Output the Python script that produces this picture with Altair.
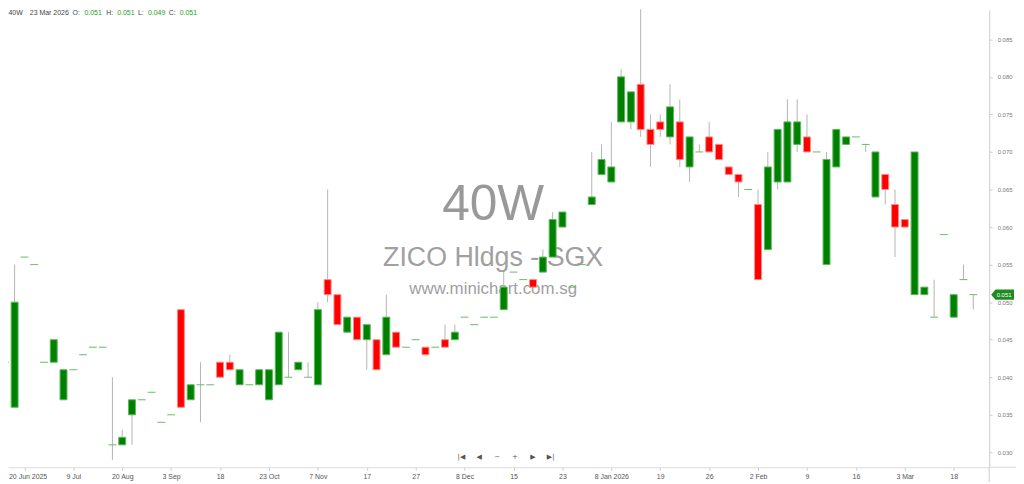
import altair as alt
import pandas as pd

# ---- data ----
opens = [0.042, 0.036, 0.056, 0.055, 0.042, 0.042, 0.037, 0.041, 0.043, 0.044,
         0.044, 0.031, 0.031, 0.035, 0.037, 0.038, 0.034, 0.035, 0.049, 0.037,
         0.039, 0.039, 0.042, 0.042, 0.039, 0.039, 0.039, 0.037, 0.039, 0.040,
         0.041, 0.040, 0.039, 0.053, 0.051, 0.046, 0.048, 0.045, 0.045, 0.043,
         0.046, 0.044, 0.045, 0.044, 0.044, 0.045, 0.045, 0.048, 0.047, 0.048,
         0.048, 0.049, 0.054, 0.053, 0.053, 0.054, 0.056, 0.060, 0.052, 0.055,
         0.063, 0.067, 0.066, 0.074, 0.074, 0.079, 0.073, 0.074, 0.072, 0.074,
         0.068, 0.070, 0.072, 0.071, 0.068, 0.067, 0.065, 0.063, 0.057, 0.066,
         0.066, 0.071, 0.072, 0.070, 0.055, 0.068, 0.071, 0.072, 0.071, 0.064,
         0.067, 0.063, 0.061, 0.051, 0.051, 0.048, 0.059, 0.048, 0.053, 0.051]
highs = [0.043, 0.055, 0.056, 0.055, 0.042, 0.045, 0.041, 0.041, 0.043, 0.044,
         0.044, 0.040, 0.033, 0.037, 0.037, 0.038, 0.034, 0.035, 0.049, 0.039,
         0.042, 0.039, 0.042, 0.043, 0.041, 0.039, 0.041, 0.041, 0.046, 0.046,
         0.042, 0.042, 0.050, 0.065, 0.051, 0.048, 0.048, 0.047, 0.045, 0.051,
         0.046, 0.044, 0.045, 0.044, 0.044, 0.047, 0.047, 0.048, 0.047, 0.048,
         0.048, 0.054, 0.054, 0.053, 0.053, 0.057, 0.062, 0.062, 0.052, 0.055,
         0.070, 0.071, 0.074, 0.081, 0.078, 0.089, 0.075, 0.075, 0.079, 0.077,
         0.072, 0.071, 0.074, 0.071, 0.068, 0.067, 0.065, 0.065, 0.070, 0.073,
         0.077, 0.077, 0.075, 0.070, 0.070, 0.073, 0.072, 0.072, 0.071, 0.070,
         0.067, 0.065, 0.061, 0.070, 0.052, 0.053, 0.059, 0.051, 0.055, 0.051]
lows = [0.042, 0.036, 0.056, 0.055, 0.042, 0.042, 0.037, 0.041, 0.043, 0.044,
        0.044, 0.029, 0.031, 0.031, 0.037, 0.038, 0.034, 0.035, 0.036, 0.037,
        0.034, 0.039, 0.040, 0.041, 0.039, 0.039, 0.039, 0.037, 0.039, 0.040,
        0.041, 0.040, 0.039, 0.050, 0.047, 0.046, 0.045, 0.041, 0.041, 0.043,
        0.044, 0.044, 0.045, 0.043, 0.044, 0.044, 0.045, 0.048, 0.047, 0.048,
        0.048, 0.049, 0.054, 0.053, 0.052, 0.054, 0.056, 0.060, 0.052, 0.055,
        0.063, 0.067, 0.066, 0.074, 0.073, 0.072, 0.068, 0.072, 0.071, 0.068,
        0.066, 0.070, 0.070, 0.069, 0.067, 0.064, 0.065, 0.053, 0.057, 0.065,
        0.066, 0.070, 0.070, 0.070, 0.055, 0.068, 0.071, 0.072, 0.070, 0.064,
        0.063, 0.056, 0.060, 0.051, 0.051, 0.048, 0.059, 0.048, 0.053, 0.049]
closes = [0.042, 0.050, 0.056, 0.055, 0.042, 0.045, 0.041, 0.041, 0.043, 0.044,
          0.044, 0.031, 0.032, 0.037, 0.037, 0.038, 0.034, 0.035, 0.036, 0.039,
          0.039, 0.039, 0.040, 0.041, 0.041, 0.039, 0.041, 0.041, 0.046, 0.040,
          0.042, 0.040, 0.049, 0.051, 0.047, 0.048, 0.045, 0.047, 0.041, 0.048,
          0.044, 0.044, 0.045, 0.043, 0.044, 0.044, 0.046, 0.048, 0.047, 0.048,
          0.048, 0.052, 0.054, 0.053, 0.052, 0.056, 0.061, 0.062, 0.052, 0.055,
          0.064, 0.069, 0.068, 0.080, 0.078, 0.073, 0.071, 0.073, 0.076, 0.069,
          0.072, 0.070, 0.070, 0.069, 0.067, 0.066, 0.065, 0.053, 0.068, 0.073,
          0.074, 0.074, 0.070, 0.070, 0.069, 0.073, 0.072, 0.072, 0.071, 0.070,
          0.065, 0.060, 0.060, 0.070, 0.052, 0.048, 0.059, 0.051, 0.053, 0.051]

tick_idx = [2, 7, 12, 17, 22, 27, 32, 37, 42, 47, 52, 57, 62, 67, 72, 77, 82, 87, 92, 97]
tick_labels = ["20 Jun 2025", "9 Jul", "20 Aug", "3 Sep", "18", "23 Oct", "7 Nov", "17",
               "27", "8 Dec", "15", "23", "8 Jan 2026", "19", "26", "2 Feb", "9", "16",
               "3 Mar", "18"]
y_ticks = [0.030, 0.035, 0.040, 0.045, 0.050, 0.055, 0.060, 0.065, 0.070, 0.075, 0.080, 0.085]

symbol = "40W"
company = "ZICO Hldgs - SGX"
site = "www.minichart.com.sg"
last_date = "23 Mar 2026"
nav_icons = ["|◀", "◀", "−", "+", "▶", "▶|"]

# ---- frame ----
n = len(opens)
df = pd.DataFrame({"i": list(range(n)), "open": opens, "high": highs,
                   "low": lows, "close": closes})
df["dir"] = ["up" if c >= o else "down" for o, c in zip(opens, closes)]
df["xl"] = df["i"] - 0.4
df["xr"] = df["i"] + 0.4

W, H = 989, 461
FONT = "Liberation Sans"
xs = alt.Scale(domain=[0.3245, 100.63], nice=False, zero=False, padding=0)
ys = alt.Scale(domain=[0.028018, 0.088917], nice=False, zero=False, padding=0)

label_expr = "[" + ",".join("'%s'" % t for t in tick_labels) + "][round((datum.value-2)/5)]"
first_tick = "datum.value == %d" % tick_idx[0]

x_axis = alt.Axis(values=tick_idx, labelExpr=label_expr, title=None, grid=False,
                  labelFontSize=7, labelColor="#555555", labelFont=FONT,
                  tickSize=3, tickColor="#cccccc", domainColor="#dddddd",
                  labelPadding=2, labelFlush=False, labelOverlap=False,
                  labelAlign={"condition": {"test": first_tick, "value": "left"}, "value": "center"},
                  labelOffset={"condition": {"test": first_tick, "value": -16}, "value": 0})
y_axis = alt.Axis(values=y_ticks, format=".3f", orient="right", title=None, grid=False,
                  labelFontSize=6, labelColor="#777777", labelFont=FONT,
                  tickSize=3, tickColor="#cccccc", domainColor="#cccccc",
                  labelPadding=5)

one = pd.DataFrame({"a": [0]})


def txt(s, x, y, size, color, align="center", baseline="middle"):
    return alt.Chart(one).mark_text(text=s, fontSize=size, color=color, font=FONT,
                                    align=align, baseline=baseline).encode(
        x=alt.value(x), y=alt.value(y))


# watermark
wm = [
    txt(symbol, 489, 197, 50, "#999999"),
    txt(company, 489, 250, 27, "#a0a0a0"),
    txt(site, 489, 281, 17, "#a0a0a0"),
]

# wicks
wicks = alt.Chart(df).mark_rule(color="#b4b4b4", strokeWidth=1).encode(
    x=alt.X("i:Q", scale=xs, axis=x_axis),
    y=alt.Y("low:Q", scale=ys, axis=y_axis),
    y2="high:Q",
)

# bodies
bodies = alt.Chart(df).transform_filter("datum.open != datum.close").mark_bar(
    size=7, strokeWidth=1).encode(
    x=alt.X("i:Q", scale=xs, axis=x_axis),
    y=alt.Y("open:Q", scale=ys, axis=y_axis),
    y2="close:Q",
    color=alt.Color("dir:N", scale=alt.Scale(domain=["up", "down"], range=["#008000", "#ff0000"]), legend=None),
    stroke=alt.Stroke("dir:N", scale=alt.Scale(domain=["up", "down"], range=["#5cb85c", "#ff8a8a"]), legend=None),
)

# doji dashes
dojis = alt.Chart(df).transform_filter("datum.open == datum.close").mark_rule(
    color="#66bb66", strokeWidth=1).encode(
    x=alt.X("xl:Q", scale=xs, axis=x_axis),
    x2="xr:Q",
    y=alt.Y("close:Q", scale=ys, axis=y_axis),
)

# axis line extensions
ext_h = alt.Chart(one).mark_rule(color="#dddddd").encode(
    x=alt.value(W), x2=alt.value(1016), y=alt.value(H))
ext_v = alt.Chart(one).mark_rule(color="#cccccc").encode(
    x=alt.value(W), y=alt.value(H), y2=alt.value(476))

# last price tag
last = pd.DataFrame({"c": [closes[-1]], "s": ["%.3f" % closes[-1]]})
tag = alt.Chart(last).mark_point(
    shape="M-1,0L-0.62,-0.45L1,-0.45L1,0.45L-0.62,0.45Z", filled=True,
    color="#1e8c1e", opacity=1, size=529).encode(
    x=alt.value(1002.5), y=alt.Y("c:Q", scale=ys, axis=y_axis))
tag_txt = alt.Chart(last).mark_text(color="white", fontSize=6, font=FONT,
                                    align="center", baseline="middle").encode(
    x=alt.value(1004), y=alt.Y("c:Q", scale=ys, axis=y_axis), text="s:N")

# header
hdr_y = 3.5
dark = "#444444"
green = "#22a022"
o, h, l, c = opens[-1], highs[-1], lows[-1], closes[-1]
header = [
    txt(symbol, 0.5, hdr_y, 7, dark, "left"),
    txt(last_date, 22, hdr_y, 7, dark, "left"),
    txt("O:", 65, hdr_y, 7, dark, "left"),
    txt("%.3f" % o, 77, hdr_y, 7, green, "left"),
    txt("H:", 99, hdr_y, 7, dark, "left"),
    txt("%.3f" % h, 110, hdr_y, 7, green, "left"),
    txt("L:", 131, hdr_y, 7, dark, "left"),
    txt("%.3f" % l, 141, hdr_y, 7, green, "left"),
    txt("C:", 162, hdr_y, 7, dark, "left"),
    txt("%.3f" % c, 173, hdr_y, 7, green, "left"),
]

# navigation icons
nav_x = [457, 475, 493, 511, 529, 547]
nav = [alt.Chart(one).mark_text(text=s, fontSize=7, color="#555555", font="DejaVu Sans",
                                align="center", baseline="middle").encode(
    x=alt.value(x), y=alt.value(451)) for s, x in zip(nav_icons, nav_x)]

chart = alt.layer(
    *wm, wicks, bodies, dojis, ext_h, ext_v, tag, tag_txt, *header, *nav
).properties(
    width=W, height=H,
    autosize=alt.AutoSizeParams(type="none"),
    padding={"left": 0, "top": 0, "right": 27, "bottom": 15},
    background="white",
).configure_view(stroke=None)

chart.save("out.html", embed_options={"renderer": "svg", "actions": False})
